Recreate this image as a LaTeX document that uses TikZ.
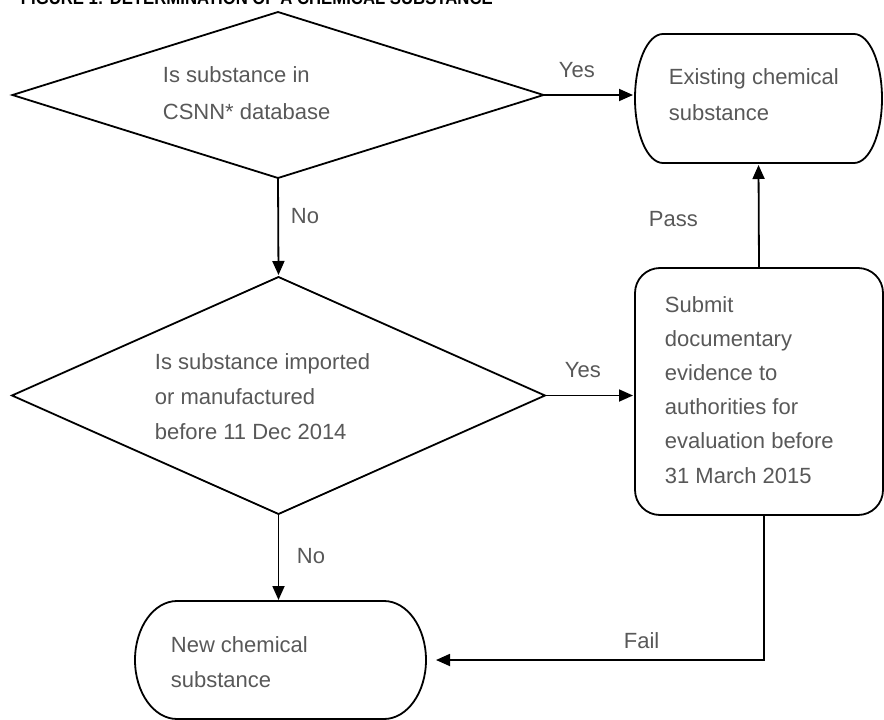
\documentclass[tikz,border=0pt]{standalone}
\usepackage{fontspec}
\setmainfont{Liberation Sans}
\usetikzlibrary{shapes.geometric,arrows.meta,calc}
\definecolor{txt}{RGB}{88,88,88}
\begin{document}
\begin{tikzpicture}[x=1pt,y=-1pt,
 line width=1.8pt,
 dia/.style={draw,shape=diamond,inner sep=0pt,outer sep=0pt},
 termbox/.style={rectangle,inner sep=0pt,outer sep=0pt},
 proc/.style={draw,rectangle,rounded corners=25pt,inner sep=0pt,outer sep=0pt},
 lbl/.style={text=txt,font=\fontsize{22}{35}\selectfont,inner sep=0pt,anchor=base west,align=left},
 arr/.style={-{Triangle[length=14pt,width=12pt]}},
]
\useasboundingbox (0,0) rectangle (884,720);
\clip (0,0) rectangle (884,720);

\node[anchor=base west,inner sep=0pt,font=\bfseries\fontsize{19}{19}\selectfont] (title) at (20,4.5)
  {\scalebox{0.88}[1]{FIGURE 1: DETERMINATION OF A CHEMICAL SUBSTANCE}};

\node[dia,minimum width=531pt,minimum height=166pt] (d1) at (278,95) {};
\node[dia,minimum width=533pt,minimum height=237pt] (d2) at (278.5,395.5) {};
\node[termbox,minimum width=247pt,minimum height=129pt] (ex) at (758.5,98.5) {};
\node[proc,minimum width=248pt,minimum height=247pt] (sub) at (759,391.5) {};
\node[termbox,minimum width=291pt,minimum height=118pt] (new) at (280.5,660) {};

% terminal outlines with half-ellipse ends
\draw ([xshift=28pt]ex.north west) -- ([xshift=-28pt]ex.north east)
  arc[start angle=90,end angle=-90,x radius=28pt,y radius=64.5pt]
  -- ([xshift=28pt]ex.south west)
  arc[start angle=270,end angle=90,x radius=28pt,y radius=64.5pt] -- cycle;
\draw ([xshift=42pt]new.north west) -- ([xshift=-42pt]new.north east)
  arc[start angle=90,end angle=-90,x radius=42pt,y radius=59pt]
  -- ([xshift=42pt]new.south west)
  arc[start angle=270,end angle=90,x radius=42pt,y radius=59pt] -- cycle;

\node[lbl,font=\fontsize{22}{37}\selectfont] (t1) at (162,119) {Is substance in\\CSNN* database};
\node[lbl,font=\fontsize{22}{36}\selectfont] (t2) at (668,120) {Existing chemical\\substance};
\node[lbl] (t3) at (154,439) {Is substance imported\\or manufactured\\before 11 Dec 2014};
\node[lbl,font=\fontsize{22}{34.2}\selectfont] (t4) at (664,483) {Submit\\documentary\\evidence to\\authorities for\\evaluation before\\31 March 2015};
\node[lbl] (t5) at (170,687) {New chemical\\substance};

\node[lbl] (y1) at (558,77) {Yes};
\node[lbl] (y2) at (564,377) {Yes};
\node[lbl] (n1) at (290,223) {No};
\node[lbl] (n2) at (296,563) {No};
\node[lbl] (pass) at (648,226) {Pass};
\node[lbl] (fail) at (623,648) {Fail};

\coordinate (failtop) at ([xshift=5pt]sub.south);

\draw[arr,shorten >=2pt] (d1.east) -- (d1.east -| ex.west);
\draw[arr,shorten >=2pt] (d1.south) -- (d2.north);
\draw[arr,shorten >=2pt] (d2.east) -- (d2.east -| sub.west);
\draw[arr,shorten >=1pt] (d2.south) -- (d2.south |- new.north);
\draw[arr,shorten >=2pt] (sub.north) -- (ex.south);
\draw[arr,shorten >=10pt] (failtop) |- (new.east);
\end{tikzpicture}
\end{document}
